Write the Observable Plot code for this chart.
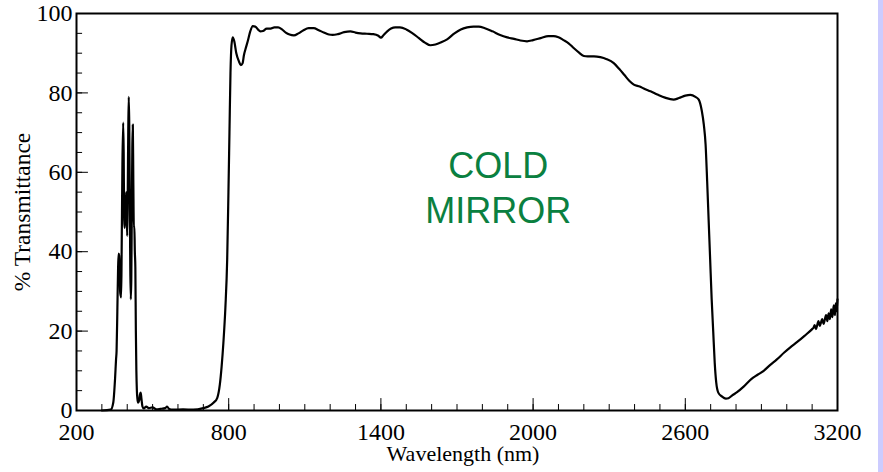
<!DOCTYPE html>
<html><head><meta charset="utf-8">
<script src="https://cdn.jsdelivr.net/npm/d3@7"></script>
<script src="https://cdn.jsdelivr.net/npm/@observablehq/plot@0.6"></script>
<style>
body{margin:0;background:#fff;width:883px;height:472px;overflow:hidden;position:relative;color:#000}
#strip{position:absolute;left:878px;top:0;width:5px;height:472px;background:#ccccff}
</style></head><body><div id="chart"></div><div id="strip"></div>
<script>
const wavelength = [300,335,345,352,356,358,361,364,366,368,370,372,374,376,378,381,384,386,388,390,393,396,398,400,402,404,406,408,410,412,414,416,418,420,422,424,426,428,430,432,434,436,438,440,443,447,450,453,456,460,465,475,485,500,515,530,550,557,565,580,620,660,700,720,741,755,765,772,779,787,794,799,803,807,811,816,822,830,840,848,855,860,866,875,885,895,905,915,925,935,950,965,980,995,1010,1025,1040,1057,1075,1095,1115,1135,1155,1175,1195,1210,1230,1255,1280,1300,1320,1345,1370,1390,1400,1410,1425,1440,1457,1475,1500,1525,1550,1575,1595,1615,1640,1661,1690,1715,1740,1765,1786,1810,1840,1870,1898,1925,1950,1976,2000,2030,2060,2081,2100,2120,2140,2160,2180,2200,2215,2240,2265,2290,2318,2340,2360,2380,2397,2420,2440,2463,2490,2520,2554,2575,2600,2620,2640,2653,2665,2673,2680,2686,2692,2698,2704,2710,2716,2722,2730,2745,2760,2770,2785,2804,2830,2860,2885,2909,2935,2960,2990,3014,3040,3070,3100,3106,3110,3115,3125,3130,3140,3145,3155,3160,3165,3170,3175,3180,3185,3190,3193,3196,3200];
const transmittance = [0,0.2,2,8,13,15,25,36,39.5,39,36,30,29,28.5,40,62,72.5,65,48,46,50,55,49,44,55,70,79,72,55,36,28,33,50,66,72,58,46,46.5,40,36,20,10,5,3,2,2.5,4,4.5,3,1,0.5,1,0.6,0.8,0.3,0.4,0.6,1,0.4,0.2,0.3,0.2,0.6,1,2,3.2,6.5,11,17,26,38,55,70,85,92,94,93,90,88,87,87.5,89.5,91,93,95.5,96.8,96.7,96,95.5,95.6,96.2,96.2,96.5,96.5,96,95.2,94.7,94.5,95,95.8,96.3,96.3,95.8,95.2,94.7,94.6,94.8,95.3,95.5,95.2,95,94.9,94.8,94.4,93.9,94.5,95.5,96.2,96.5,96.5,96,95,93.8,92.6,92,92.2,92.8,93.5,95,96,96.5,96.7,96.7,96.3,95.5,94.6,94,93.6,93.2,93,93.3,93.8,94.3,94.3,94,93.3,92.5,91.3,90.2,89.3,89.2,89.2,89,88.5,87.5,86,84.5,83,82.1,81.6,81,80.4,79.6,78.8,78.3,78.7,79.3,79.5,79,78.3,75.5,72,67,58,48,38,28,20,12,7,4.5,3.5,3,3.1,3.8,4.6,6,7.9,9,10,11.5,12.8,14.6,15.9,17.2,18.8,20.5,20.9,21.5,20.5,22.5,21.3,23,21.8,24,22.5,24.5,23,25.5,23.5,26.5,24,27,25,28];
const xTickLabels = [200,800,1400,2000,2600,3200];
const yTickLabels = [0,20,40,60,80,100];
const xMinorTicks = [200,300,400,500,600,700,800,900,1000,1100,1200,1300,1400,1500,1600,1700,1800,1900,2000,2100,2200,2300,2400,2500,2600,2700,2800,2900,3000,3100,3200];
const yMinorTicks = [0,5,10,15,20,25,30,35,40,45,50,55,60,65,70,75,80,85,90,95,100];
const annotation = ["COLD\nMIRROR"];

const data = wavelength.map((w, i) => ({w, t: transmittance[i]}));
const serif = "'Liberation Serif', 'Times New Roman', serif";

const chart = Plot.plot({
  width: 883,
  height: 472,
  marginLeft: 76,
  marginRight: 46,
  marginTop: 13,
  marginBottom: 62,
  style: {fontFamily: serif, fontSize: "24px", background: "transparent"},
  x: {domain: [200, 3200], axis: null},
  y: {domain: [0, 100], axis: null},
  marks: [
    Plot.ruleX(xMinorTicks, {x: d => d, y1: 0, y2: 1.5, stroke: "black", strokeWidth: 1}),
    Plot.ruleX(xTickLabels, {x: d => d, y1: 0, y2: 3, stroke: "black", strokeWidth: 1}),
    Plot.ruleY(yMinorTicks, {y: d => d, x1: 200, x2: 224, stroke: "black", strokeWidth: 1}),
    Plot.ruleY(yTickLabels, {y: d => d, x1: 200, x2: 247, stroke: "black", strokeWidth: 1}),
    Plot.line(data, {x: "w", y: "t", stroke: "black", strokeWidth: 2.2, curve: "monotone-x"}),
    Plot.frame({stroke: "black", strokeWidth: 2}),
    Plot.axisX(xTickLabels, {tickSize: 0, tickPadding: 12, tickFormat: d => String(d), label: null, fontSize: 24, fontFamily: serif}),
    Plot.axisY(yTickLabels, {tickSize: 0, tickPadding: 4, tickFormat: d => String(d), label: null, fontSize: 24, fontFamily: serif}),
    Plot.text(["Wavelength (nm)"], {text: d => d, frameAnchor: "bottom", dx: 6, dy: 50, fontSize: 22, fontFamily: serif, fill: "black"}),
    Plot.text(["% Transmittance"], {text: d => d, frameAnchor: "left", textAnchor: "middle", dx: -54, rotate: -90, fontSize: 23.5, fontFamily: serif, fill: "black"}),
    Plot.text(annotation, {text: d => d, x: () => 1863, y: () => 56.5, fontSize: 36, lineHeight: 1.26, fill: "#0a8040", fontFamily: "'Liberation Sans', Arial, sans-serif"})
  ]
});
document.getElementById("chart").appendChild(chart);
</script></body></html>
